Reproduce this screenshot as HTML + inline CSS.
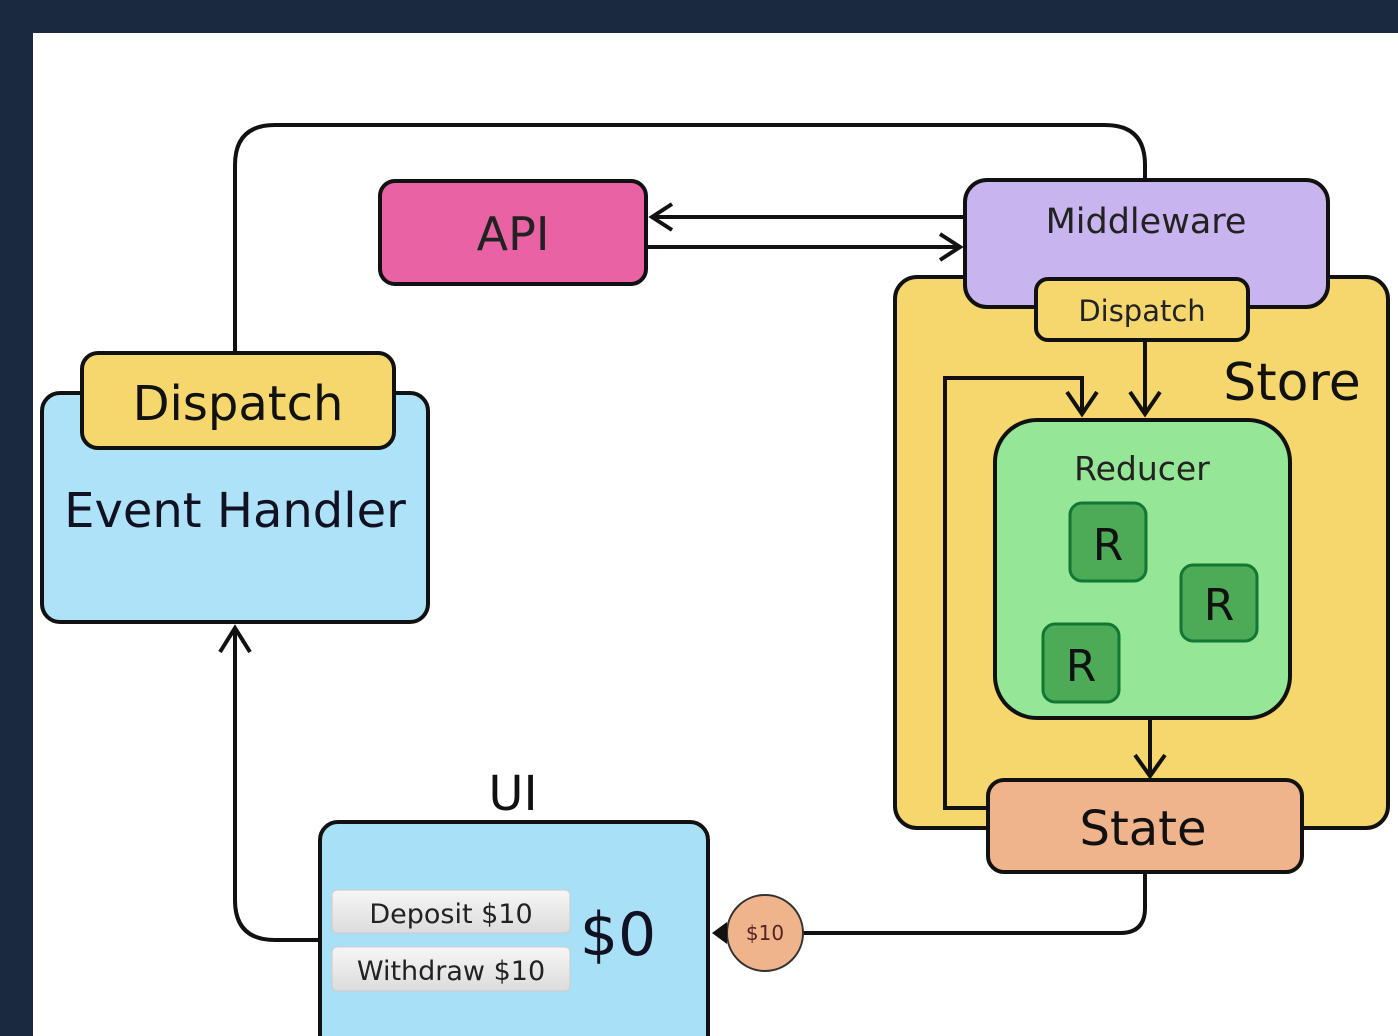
<!DOCTYPE html>
<html><head><meta charset="utf-8"><style>
html,body{margin:0;padding:0;background:#1a2940;}
svg{display:block}
text{font-family:"DejaVu Sans","Liberation Sans",sans-serif;}
</style></head><body>
<svg width="1398" height="1036" viewBox="0 0 1398 1036" xmlns="http://www.w3.org/2000/svg">
<rect x="0" y="0" width="1398" height="1036" fill="#1a2940"/>
<rect x="33" y="33" width="1365" height="1003" fill="#ffffff"/>
<g fill="none" stroke="#111" stroke-width="4">
<path d="M235 352 V165 Q235 125 275 125 H1105 Q1145 125 1145 165 V182"/>
<path d="M965 217 H652 M672 204 L652 217 L672 230"/>
<path d="M646 247 H960 M940 234 L960 247 L940 260"/>
</g>
<rect x="380" y="181" width="266" height="103" rx="15" fill="#e862a4" stroke="#111" stroke-width="4"/>
<text x="513" y="250" font-size="46" text-anchor="middle" fill="#222">API</text>
<rect x="895" y="277" width="493" height="551" rx="22" fill="#f5d76e" stroke="#111" stroke-width="4"/>
<rect x="965" y="180" width="363" height="127" rx="22" fill="#c8b4ee" stroke="#111" stroke-width="4"/>
<text x="1146" y="233" font-size="35" text-anchor="middle" fill="#222">Middleware</text>
<rect x="1036" y="279" width="212" height="61" rx="12" fill="#f5d76e" stroke="#111" stroke-width="4"/>
<text x="1142" y="321" font-size="29" text-anchor="middle" fill="#222">Dispatch</text>
<text x="1292" y="400" font-size="52" text-anchor="middle" fill="#111">Store</text>
<g fill="none" stroke="#111" stroke-width="4">
<path d="M1145 340 V414 M1130 392 L1145 414 L1160 392"/>
<path d="M990 808 H945 V378 H1082 V414 M1067 392 L1082 414 L1097 392"/>
<path d="M1150 718 V776 M1135 755 L1150 776 L1165 755"/>
<path d="M1145 872 V908 Q1145 933 1120 933 H800"/>
<path d="M320 940 H275 Q235 940 235 900 V628 M220 652 L235 628 L250 652"/>
</g>
<rect x="995" y="420" width="295" height="298" rx="42" fill="#95e696" stroke="#111" stroke-width="4"/>
<text x="1142" y="480" font-size="33" text-anchor="middle" fill="#222">Reducer</text>
<g fill="#4daa57" stroke="#173" stroke-width="3">
<rect x="1070" y="503" width="76" height="78" rx="12"/>
<rect x="1181" y="565" width="76" height="76" rx="12"/>
<rect x="1043" y="624" width="76" height="78" rx="12"/>
</g>
<g font-size="44" text-anchor="middle" fill="#111">
<text x="1108" y="560">R</text><text x="1219" y="620">R</text><text x="1081" y="681">R</text>
</g>
<rect x="988" y="780" width="314" height="92" rx="16" fill="#f0b48c" stroke="#111" stroke-width="4"/>
<text x="1143" y="845" font-size="48" text-anchor="middle" fill="#111">State</text>
<rect x="42" y="393" width="386" height="229" rx="18" fill="#aee2f8" stroke="#111" stroke-width="4"/>
<rect x="82" y="353" width="312" height="95" rx="16" fill="#f5d76e" stroke="#111" stroke-width="4"/>
<text x="238" y="420" font-size="48" text-anchor="middle" fill="#111">Dispatch</text>
<text x="235" y="527" font-size="48" text-anchor="middle" fill="#112">Event Handler</text>
<text x="513" y="810" font-size="48" text-anchor="middle" fill="#111">UI</text>
<rect x="320" y="822" width="388" height="240" rx="18" fill="#a8e0f8" stroke="#111" stroke-width="4"/>
<defs><linearGradient id="b" x1="0" y1="0" x2="0" y2="1"><stop offset="0" stop-color="#f6f6f6"/><stop offset="1" stop-color="#dcdcdc"/></linearGradient></defs>
<rect x="332" y="890" width="238" height="43" rx="5" fill="url(#b)" stroke="#ccc"/>
<rect x="332" y="947" width="238" height="44" rx="5" fill="url(#b)" stroke="#ccc"/>
<text x="451" y="923" font-size="27" text-anchor="middle" fill="#222">Deposit $10</text>
<text x="451" y="980" font-size="27" text-anchor="middle" fill="#222">Withdraw $10</text>
<text x="618" y="955" font-size="60" text-anchor="middle" fill="#112">$0</text>
<circle cx="765" cy="933" r="38" fill="#f0b48c" stroke="#333" stroke-width="2"/>
<text x="765" y="940" font-size="20" text-anchor="middle" fill="#522">$10</text>
<path d="M712 933 L727 922 L727 944 Z" fill="#111"/>
</svg>
</body></html>
